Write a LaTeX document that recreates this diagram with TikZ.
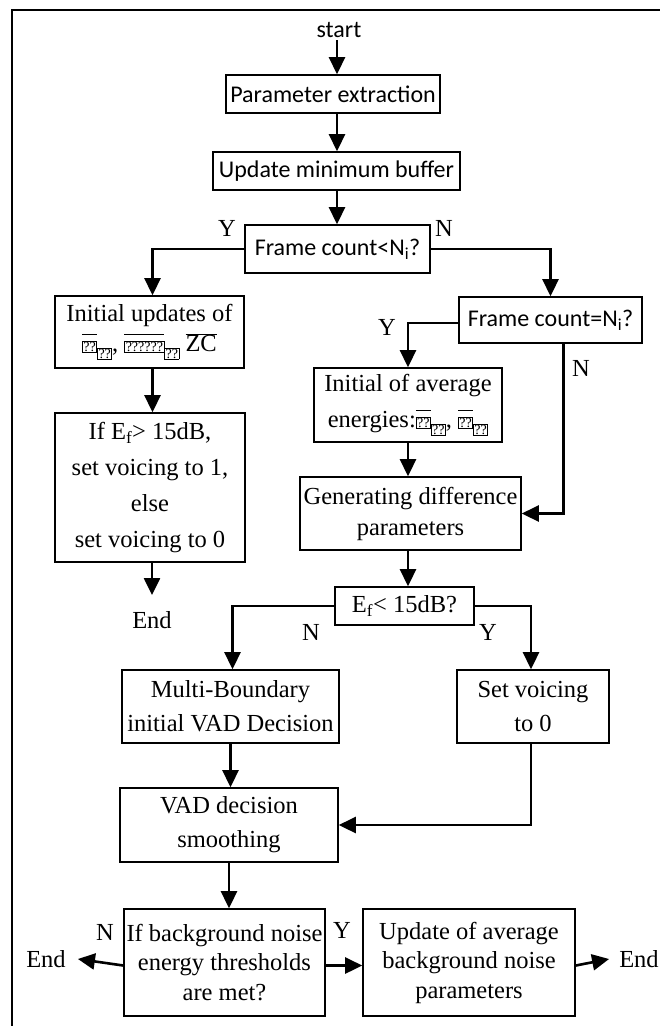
\documentclass[tikz,border=0pt]{standalone}
\usepackage{fontspec}
\setmainfont{Liberation Serif}
\newfontfamily\calfont{Carlito}
\usetikzlibrary{arrows.meta}
\newcommand\qb[1]{{\setlength{\fboxsep}{0.5pt}\setlength{\fboxrule}{0.8pt}\fbox{\fontsize{14}{14}\selectfont #1}}}
\newcommand\mgl[2]{$\overline{\hbox{\qb{#1}}\vphantom{\hbox{Z}}}$\raisebox{-7pt}{\qb{#2}}}
\tikzset{
  box/.style={draw, line width=1.6pt, inner sep=0pt, align=center, font=\fontsize{24.5}{31}\selectfont},
  sbox/.style={box, font=\calfont\fontsize{24}{28}\selectfont},
  conn/.style={line width=2.6pt, -{Triangle[length=17pt,width=16pt]}},
  lab/.style={inner sep=0pt, font=\fontsize{24.5}{28}\selectfont},
}
\begin{document}
\begin{tikzpicture}[x=1pt,y=-1pt]
\useasboundingbox (0,0) rectangle (660,1026);
\draw[line width=2pt] (12,1026) -- (12,10) -- (660,10);

\node[inner sep=0pt, font=\calfont\fontsize{24}{28}\selectfont] (start) at (339,30) {start};
\node[sbox, minimum width=214pt, minimum height=38pt] (param) at (333,94) {Parameter extraction};
\node[sbox, minimum width=247pt, minimum height=38pt] (upd) at (336.5,171) {Update minimum buffer};
\node[sbox, minimum width=185pt, minimum height=48pt] (fc1) at (337.5,249) {Frame count<N\textsubscript{i}?};
\node[box, minimum width=189pt, minimum height=72pt] (initup) at (149.5,332) {Initial updates of\\[-1pt] \mgl{??}{??}, \mgl{??????}{??} $\overline{\hbox{ZC}}$};
\node[sbox, minimum width=183pt, minimum height=46pt] (fc2) at (550.5,320) {Frame count=N\textsubscript{i}?};
\node[box, minimum width=188pt, minimum height=74pt] (initavg) at (408,405) {Initial of average\\[5pt] energies:\mgl{??}{??}, \mgl{??}{??}};
\node[box, minimum width=190pt, minimum height=149pt] (ifef) at (150,487.5) {If E\textsubscript{f}> 15dB,\\[5pt] set voicing to 1,\\[5pt] else\\[5pt] set voicing to 0};
\node[box, minimum width=221pt, minimum height=73pt] (gen) at (410.5,513.5) {Generating difference\\ parameters};
\node[box, minimum width=139pt, minimum height=38pt] (ef) at (404.5,606) {E\textsubscript{f}< 15dB?};
\node[box, minimum width=217pt, minimum height=73pt] (multi) at (230.5,706.5) {Multi-Boundary\\[3pt] initial VAD Decision};
\node[box, minimum width=152pt, minimum height=73pt] (setv) at (533,706.5) {Set voicing\\[3pt] to 0};
\node[box, minimum width=218pt, minimum height=74pt] (vad) at (229,825) {VAD decision\\[3pt] smoothing};
\node[box, minimum width=201pt, minimum height=107pt] (bg) at (224.5,962.5) {If background noise\\[-1.5pt] energy thresholds\\[-1.5pt] are met?};
\node[box, minimum width=212pt, minimum height=107pt] (upd2) at (469,962.5) {Update of average\\[-1.5pt] background noise\\[-1.5pt] parameters};

\node[lab] (end1) at (152,620) {End};
\node[lab] (endL) at (46,959) {End};
\node[lab] (endR) at (639,959) {End};

\node[lab] (y1) at (227,228) {Y};
\node[lab] (n1) at (444,228) {N};
\node[lab] (y2) at (387,327) {Y};
\node[lab] (n2) at (581,368) {N};
\node[lab] (n3) at (311,632) {N};
\node[lab] (y3) at (488,632) {Y};
\node[lab] (n4) at (105,932) {N};
\node[lab] (y4) at (342,930) {Y};

\coordinate (c1) at (337,40);
\draw[conn] (c1) -- (c1 |- param.north);
\draw[conn] (c1 |- param.south) -- (c1 |- upd.north);
\draw[conn] (c1 |- upd.south) -- (c1 |- fc1.north);
\draw[conn] (fc1.west) -| ([xshift=3pt]initup.north);
\draw[conn] (fc1.east) -| (fc2.north);
\draw[conn] ([yshift=-3pt]fc2.west) -| (initavg.north);
\draw[conn] ([xshift=13pt]fc2.south) |- (gen.east);
\draw[conn] ([xshift=3pt]initup.south) -- ([xshift=3pt]initup.south |- ifef.north);
\coordinate (e1) at (152,595);
\draw[conn] (ifef.south -| e1) -- (e1);
\draw[conn] (initavg.south) -- (initavg.south |- gen.north);
\coordinate (c2) at (408,560);
\draw[conn] (gen.south -| c2) -- (c2 |- ef.north);
\draw[conn] (ef.west) -| ([xshift=2pt]multi.north);
\draw[conn] (ef.east) -| ([xshift=-2pt]setv.north);
\draw[conn] (multi.south) -- (multi.south |- vad.north);
\draw[conn] ([xshift=-2pt]setv.south) |- (vad.east);
\draw[conn] (vad.south) -- (vad.south |- bg.north);
\draw[conn] ([yshift=-3pt]bg.west) -- ([xshift=12pt]endL.east |- 0,959);
\draw[conn] ([yshift=-3pt]bg.east) -- ([yshift=-3pt]upd2.west);
\draw[conn] ([yshift=-3pt]upd2.east) -- ([xshift=-10pt]endR.west |- 0,959);
\end{tikzpicture}
\end{document}
